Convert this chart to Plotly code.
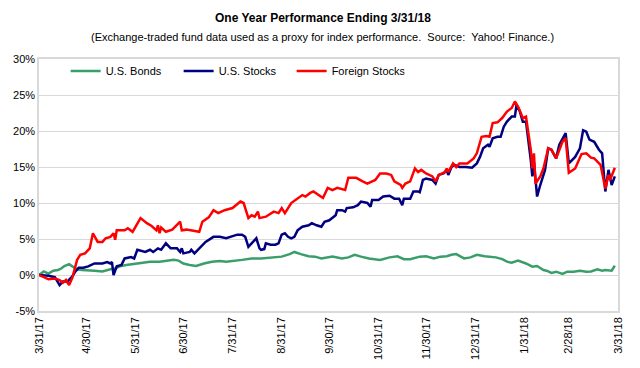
import plotly.graph_objects as go

# ---------------- data (cumulative return, %) ----------------
bond_dates = ["2017-03-31","2017-04-03","2017-04-06","2017-04-09","2017-04-12","2017-04-14","2017-04-16","2017-04-19",
              "2017-04-21","2017-04-24","2017-04-27","2017-05-01","2017-05-05","2017-05-10","2017-05-13","2017-05-15",
              "2017-05-18","2017-05-21","2017-05-25","2017-05-28","2017-06-03","2017-06-09","2017-06-15","2017-06-19",
              "2017-06-24","2017-06-27","2017-06-30","2017-07-04","2017-07-08","2017-07-13","2017-07-18","2017-07-23",
              "2017-07-27","2017-08-06","2017-08-09","2017-08-12","2017-08-18","2017-08-25","2017-08-31","2017-09-05",
              "2017-09-08","2017-09-12","2017-09-17","2017-09-21","2017-09-25","2017-10-02","2017-10-08","2017-10-12",
              "2017-10-16","2017-10-20","2017-10-25","2017-11-01","2017-11-07","2017-11-12","2017-11-16","2017-11-20",
              "2017-11-26","2017-11-30","2017-12-05","2017-12-09","2017-12-13","2017-12-16","2017-12-19","2017-12-24",
              "2017-12-28","2018-01-01","2018-01-06","2018-01-13","2018-01-17","2018-01-20","2018-01-23","2018-01-27",
              "2018-02-01","2018-02-05","2018-02-08","2018-02-12","2018-02-14","2018-02-17","2018-02-20","2018-02-24",
              "2018-02-27","2018-03-03","2018-03-07","2018-03-11","2018-03-14","2018-03-18","2018-03-21","2018-03-23",
              "2018-03-27","2018-03-29"]
bond_values = [0.0, 0.5, 0.2, 0.6, 0.7, 0.9, 1.25, 1.5,
               1.2, 0.8, 0.7, 0.6, 0.6, 0.5, 0.7, 0.8,
               0.9, 1.2, 1.4, 1.5, 1.6, 1.85, 1.85, 1.95,
               2.1, 2.0, 1.6, 1.4, 1.25, 1.6, 1.85, 1.95,
               1.85, 2.1, 2.2, 2.3, 2.3, 2.45, 2.55, 2.9,
               3.2, 2.9, 2.6, 2.55, 2.3, 2.55, 2.3, 2.45,
               2.8, 2.55, 2.3, 2.1, 2.45, 2.6, 2.2, 2.2,
               2.55, 2.6, 2.3, 2.55, 2.6, 2.8, 2.9, 2.3,
               2.45, 2.8, 2.6, 2.45, 2.2, 1.85, 1.7, 2.0,
               1.6, 1.15, 1.25, 0.7, 0.6, 0.3, 0.46, 0.14,
               0.46, 0.46, 0.6, 0.46, 0.5, 0.8, 0.6, 0.7,
               0.6, 1.3]

us_stock_dates = ["2017-03-31","2017-04-06","2017-04-10","2017-04-13","2017-04-15","2017-04-18","2017-04-21","2017-04-23",
                  "2017-04-25","2017-04-28","2017-05-01","2017-05-05","2017-05-10","2017-05-13","2017-05-15","2017-05-16",
                  "2017-05-17","2017-05-19","2017-05-22","2017-05-24","2017-05-28","2017-05-30","2017-06-01","2017-06-06",
                  "2017-06-09","2017-06-11","2017-06-14","2017-06-16","2017-06-19","2017-06-22","2017-06-26","2017-06-28",
                  "2017-06-29","2017-06-30","2017-07-04","2017-07-05","2017-07-07","2017-07-10","2017-07-14","2017-07-19",
                  "2017-07-23","2017-07-27","2017-07-30","2017-08-03","2017-08-06","2017-08-08","2017-08-10","2017-08-12",
                  "2017-08-15","2017-08-17","2017-08-18","2017-08-20","2017-08-21","2017-08-24","2017-08-27","2017-08-29",
                  "2017-08-31","2017-09-02","2017-09-04","2017-09-06","2017-09-08","2017-09-10","2017-09-13","2017-09-17",
                  "2017-09-19","2017-09-22","2017-09-25","2017-09-27","2017-09-30","2017-10-04","2017-10-05","2017-10-08",
                  "2017-10-10","2017-10-11","2017-10-15","2017-10-18","2017-10-20","2017-10-24","2017-10-26","2017-10-27",
                  "2017-10-31","2017-11-03","2017-11-07","2017-11-10","2017-11-13","2017-11-15","2017-11-16","2017-11-20",
                  "2017-11-22","2017-11-25","2017-11-26","2017-11-27","2017-11-28","2017-11-30","2017-12-04","2017-12-06",
                  "2017-12-08","2017-12-11","2017-12-13","2017-12-14","2017-12-16","2017-12-18","2017-12-21","2017-12-25",
                  "2017-12-29","2018-01-01","2018-01-03","2018-01-05","2018-01-08","2018-01-09","2018-01-11","2018-01-14",
                  "2018-01-16","2018-01-18","2018-01-20","2018-01-23","2018-01-25","2018-01-26","2018-01-28","2018-01-30",
                  "2018-02-01","2018-02-04","2018-02-05","2018-02-06","2018-02-08","2018-02-10","2018-02-13","2018-02-15",
                  "2018-02-17","2018-02-20","2018-02-22","2018-02-26","2018-02-28","2018-03-04","2018-03-07","2018-03-09",
                  "2018-03-11","2018-03-13","2018-03-16","2018-03-19","2018-03-21","2018-03-23","2018-03-25","2018-03-27",
                  "2018-03-29"]
us_stock_values = [0.0, -0.1, -0.3, -1.4, -0.9, -0.9, -0.2, 0.5,
                   1.0, 1.0, 1.2, 1.6, 1.6, 1.8, 1.6, 1.8,
                   0.0, 1.2, 1.4, 2.3, 2.5, 2.3, 3.5, 3.2,
                   3.5, 3.2, 3.7, 3.5, 4.4, 3.7, 3.7, 3.2,
                   3.7, 3.0, 3.2, 3.5, 3.0, 3.7, 4.6, 5.3,
                   5.3, 5.1, 5.3, 5.6, 5.6, 5.3, 3.9, 4.4,
                   5.1, 3.7, 3.5, 3.6, 4.4, 4.2, 4.2, 4.4,
                   5.6, 5.8, 5.3, 5.1, 5.3, 6.2, 6.7, 6.9,
                   7.2, 6.9, 6.7, 7.4, 7.6, 8.3, 9.0, 9.0,
                   8.8, 9.3, 9.4, 9.7, 10.2, 10.0, 9.5, 10.4,
                   10.4, 10.9, 11.0, 10.6, 10.6, 9.7, 10.6, 10.6,
                   11.6, 11.6, 11.5, 12.3, 13.2, 13.4, 13.2, 12.7,
                   13.9, 14.1, 14.6, 13.9, 15.0, 15.3, 15.0, 15.0,
                   14.9, 15.5, 16.4, 17.6, 18.1, 17.8, 19.0, 19.2,
                   19.2, 20.6, 21.3, 22.0, 22.0, 23.6, 22.8, 21.3,
                   21.3, 16.0, 13.7, 15.7, 10.9, 12.5, 14.6, 17.6,
                   17.4, 16.2, 18.1, 19.7, 15.5, 16.4, 17.6, 20.1,
                   19.9, 18.8, 18.5, 17.4, 16.9, 11.6, 14.6, 12.5,
                   13.7]

foreign_dates = ["2017-03-31","2017-04-06","2017-04-10","2017-04-13","2017-04-15","2017-04-17","2017-04-19","2017-04-21",
                 "2017-04-24","2017-04-26","2017-04-29","2017-05-02","2017-05-04","2017-05-07","2017-05-10","2017-05-12",
                 "2017-05-15","2017-05-17","2017-05-18","2017-05-19","2017-05-24","2017-05-26","2017-05-29","2017-06-03",
                 "2017-06-07","2017-06-10","2017-06-13","2017-06-14","2017-06-15","2017-06-16","2017-06-19","2017-06-23",
                 "2017-06-28","2017-06-29","2017-07-02","2017-07-06","2017-07-10","2017-07-12","2017-07-16","2017-07-19",
                 "2017-07-22","2017-07-26","2017-07-31","2017-08-05","2017-08-07","2017-08-10","2017-08-12","2017-08-14",
                 "2017-08-16","2017-08-17","2017-08-21","2017-08-26","2017-08-29","2017-08-31","2017-09-02","2017-09-06",
                 "2017-09-10","2017-09-13","2017-09-15","2017-09-18","2017-09-20","2017-09-23","2017-09-26","2017-09-29",
                 "2017-10-02","2017-10-05","2017-10-10","2017-10-12","2017-10-17","2017-10-21","2017-10-24","2017-10-29",
                 "2017-11-01","2017-11-05","2017-11-08","2017-11-10","2017-11-14","2017-11-15","2017-11-17","2017-11-20",
                 "2017-11-23","2017-11-25","2017-11-27","2017-11-30","2017-12-04","2017-12-06","2017-12-08","2017-12-12",
                 "2017-12-13","2017-12-14","2017-12-17","2017-12-19","2017-12-21","2017-12-26","2017-12-30","2018-01-01",
                 "2018-01-03","2018-01-04","2018-01-07","2018-01-09","2018-01-11","2018-01-14","2018-01-17","2018-01-20",
                 "2018-01-23","2018-01-25","2018-01-27","2018-01-28","2018-01-30","2018-02-01","2018-02-04","2018-02-05",
                 "2018-02-06","2018-02-07","2018-02-10","2018-02-12","2018-02-15","2018-02-17","2018-02-20","2018-02-24",
                 "2018-02-26","2018-02-28","2018-03-04","2018-03-08","2018-03-11","2018-03-14","2018-03-16","2018-03-20",
                 "2018-03-23","2018-03-25","2018-03-26","2018-03-29"]
foreign_values = [0.0, -0.6, -0.5, -0.7, -1.1, -0.7, -1.4, -0.4,
                  2.1, 2.8, 3.0, 3.7, 5.8, 4.6, 4.6, 5.1,
                  5.3, 5.8, 4.9, 6.2, 6.2, 6.5, 6.0, 7.9,
                  7.2, 6.8, 6.2, 6.9, 5.8, 6.6, 6.0, 6.3,
                  7.4, 6.2, 6.3, 6.2, 6.0, 7.4, 8.0, 9.0,
                  8.6, 9.0, 9.3, 10.2, 10.0, 7.9, 8.3, 8.1,
                  8.8, 7.9, 8.1, 8.8, 8.6, 9.3, 8.6, 10.0,
                  10.7, 11.1, 10.9, 11.4, 11.6, 11.1, 10.7, 12.1,
                  11.8, 12.1, 11.8, 13.5, 13.5, 13.0, 12.7, 13.2,
                  14.1, 14.1, 13.9, 13.0, 12.5, 12.1, 12.7, 13.0,
                  14.8, 14.3, 14.6, 14.1, 13.7, 13.0, 13.9, 14.3,
                  14.8, 14.3, 15.5, 15.0, 15.5, 15.5, 16.2, 16.9,
                  18.3, 19.2, 19.3, 19.2, 21.1, 21.2, 21.8, 22.7,
                  23.2, 24.1, 23.4, 22.9, 21.8, 22.0, 17.4, 14.8,
                  16.9, 12.7, 13.7, 14.8, 17.6, 17.4, 16.2, 18.5,
                  19.0, 14.2, 14.8, 16.8, 16.9, 16.3, 16.2, 15.3,
                  12.0, 13.9, 13.2, 14.9]

tick_dates = ["2017-03-31","2017-04-30","2017-05-31","2017-06-30","2017-07-31","2017-08-31","2017-09-30",
              "2017-10-31","2017-11-30","2017-12-31","2018-01-31","2018-02-28","2018-03-31"]
tick_labels = ["3/31/17","4/30/17","5/31/17","6/30/17","7/31/17","8/31/17","9/30/17",
               "10/31/17","11/30/17","12/31/17","1/31/18","2/28/18","3/31/18"]
y_ticks = [-5, 0, 5, 10, 15, 20, 25, 30]
y_labels = [f"{v}%" for v in y_ticks]

title_text = "<b>One Year Performance Ending 3/31/18</b>"
subtitle_text = "(Exchange-traded fund data used as a proxy for index performance.  Source:  Yahoo! Finance.)"

FONT = "Liberation Sans, Arial, sans-serif"
GRID = "#d9d9d9"

fig = go.Figure()
fig.add_trace(go.Scatter(x=bond_dates, y=bond_values, name="U.S. Bonds", mode="lines",
                         line=dict(color="#3a9e6a", width=2.5)))
fig.add_trace(go.Scatter(x=us_stock_dates, y=us_stock_values, name="U.S. Stocks", mode="lines",
                         line=dict(color="#000080", width=2.5)))
fig.add_trace(go.Scatter(x=foreign_dates, y=foreign_values, name="Foreign Stocks", mode="lines",
                         line=dict(color="#ff0000", width=2.5)))

fig.update_layout(
    width=640, height=368,
    margin=dict(l=39, r=22, t=59, b=57, autoexpand=False),
    paper_bgcolor="white", plot_bgcolor="white",
    font=dict(family=FONT, size=11, color="#000000"),
    showlegend=True,
    legend=dict(orientation="h", x=0.046, y=0.952, xanchor="left", yanchor="middle",
                bgcolor="rgba(0,0,0,0)", font=dict(size=11, color="#000000"),
                entrywidth=68, entrywidthmode="pixels", itemwidth=30),
    annotations=[
        dict(text=title_text, xref="paper", yref="paper", x=0.49, y=1.163, showarrow=False,
             xanchor="center", yanchor="middle", font=dict(size=12, family=FONT, color="#000000")),
        dict(text=subtitle_text, xref="paper", yref="paper", x=0.49, y=1.087, showarrow=False,
             xanchor="center", yanchor="middle", font=dict(size=11, family=FONT, color="#000000")),
    ],
)
fig.update_xaxes(type="date", range=["2017-03-31", "2018-03-31"],
                 tickvals=tick_dates, ticktext=tick_labels, tickangle=-90,
                 showgrid=False, zeroline=False, automargin=False,
                 showline=True, mirror=True, linecolor=GRID, linewidth=1.5,
                 ticks="", tickfont=dict(size=11, family=FONT))
fig.update_yaxes(range=[-5, 30], tickvals=y_ticks, ticktext=y_labels,
                 showgrid=True, gridcolor=GRID, gridwidth=1, zeroline=False, automargin=False,
                 showline=True, mirror=True, linecolor=GRID, linewidth=1.5,
                 ticks="", tickfont=dict(size=11, family=FONT))

fig.write_html("out.html", config={"displayModeBar": False},
               post_script="document.body.style.margin='0px';document.body.style.overflow='hidden';")
